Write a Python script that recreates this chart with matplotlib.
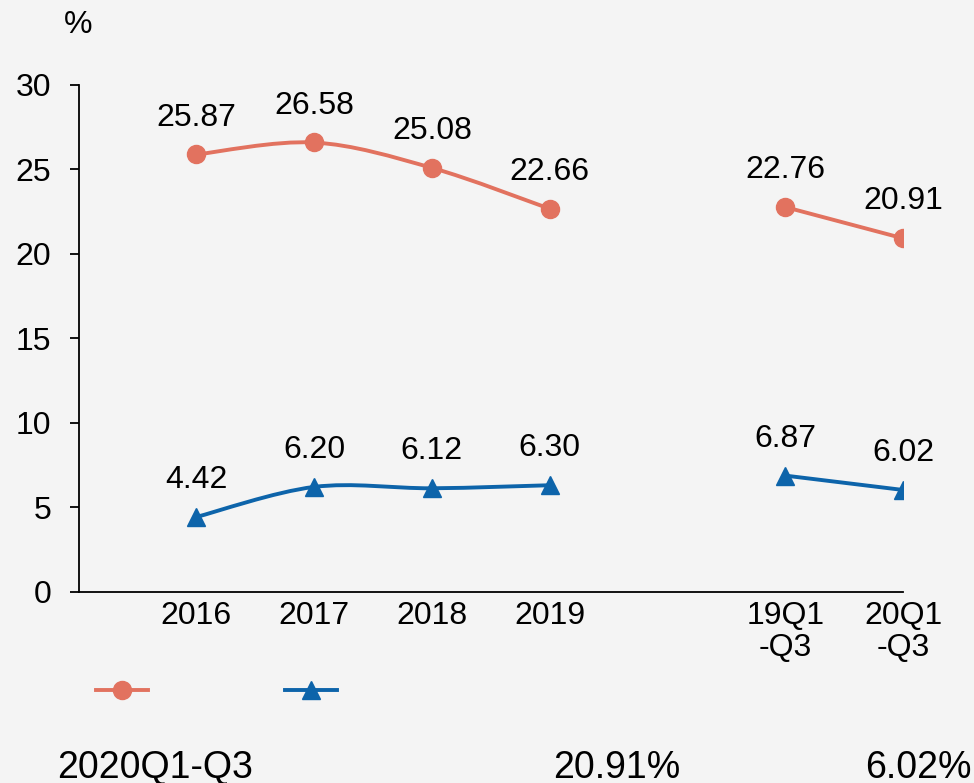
import numpy as np
import matplotlib.pyplot as plt
from matplotlib.path import Path
from matplotlib.patches import PathPatch
from matplotlib.lines import Line2D

plt.rcParams['font.family'] = ['Liberation Sans', 'DejaVu Sans']

# data
categories = ['2016', '2017', '2018', '2019', '', '19Q1\n-Q3', '20Q1\n-Q3']
series_red = [25.87, 26.58, 25.08, 22.66, np.nan, 22.76, 20.91]
series_blue = [4.42, 6.20, 6.12, 6.30, np.nan, 6.87, 6.02]
y_ticks = [0, 5, 10, 15, 20, 25, 30]
footer = ['2020Q1-Q3', '20.91%', '6.02%']

red = '#E2725F'
blue = '#0D64AA'
bg = '#F4F4F4'


def smooth_path(xs, ys):
    # Excel-like smoothed line: cubic bezier through points (catmull-rom style)
    pts = np.column_stack([xs, ys])
    n = len(pts)
    verts = [pts[0]]
    codes = [Path.MOVETO]
    for i in range(n - 1):
        p0 = pts[max(i - 1, 0)]
        p1 = pts[i]
        p2 = pts[i + 1]
        p3 = pts[min(i + 2, n - 1)]
        c1 = p1 + (p2 - p0) / 6.0
        c2 = p2 - (p3 - p1) / 6.0
        verts += [c1, c2, p2]
        codes += [Path.CURVE4] * 3
    return Path(verts, codes)


def segments(values):
    xs, ys = [], []
    out = []
    for i, v in enumerate(values):
        if np.isnan(v):
            if xs:
                out.append((xs, ys))
            xs, ys = [], []
        else:
            xs.append(i)
            ys.append(v)
    if xs:
        out.append((xs, ys))
    return out


fig = plt.figure(figsize=(9.74, 7.83), dpi=100, facecolor=bg)
ax = fig.add_axes([78.5 / 974, 1 - 591.7 / 783, (903 - 78.5) / 974, (591.7 - 84.7) / 783])
ax.patch.set_visible(False)

x = np.arange(len(categories))

for values, color, marker in [(series_red, red, 'o'), (series_blue, blue, '^')]:
    for xs, ys in segments(values):
        ax.add_patch(PathPatch(smooth_path(xs, ys), facecolor='none', edgecolor=color,
                               lw=2.8, capstyle='round', zorder=2))
    ax.plot(x, values, linestyle='none', marker=marker, ms=13, color=color, zorder=3)
    for xi, v in zip(x, values):
        if not np.isnan(v):
            ax.annotate(f'{v:.2f}', (xi, v), xytext=(0, 26.6), textcoords='offset points',
                        ha='center', va='center', fontsize=23, color='black')

ax.set_xlim(-1, 6)
ax.set_ylim(0, 30)
ax.set_xticks(x)
ax.set_xticklabels(categories, fontsize=23, linespacing=1.1)
ax.set_yticks(y_ticks)
ax.set_yticklabels([str(t) for t in y_ticks], fontsize=23)
ax.tick_params(axis='x', length=0, pad=6.5)
ax.tick_params(axis='y', direction='out', length=6.5, width=1.3, pad=13)

ax.spines['right'].set_visible(False)
ax.spines['top'].set_visible(False)
ax.spines['left'].set_linewidth(1.3)
ax.spines['bottom'].set_linewidth(1.3)

fig.text(78 / 974, 1 - 25 / 783, '%', ha='center', va='center', fontsize=23)

handles = [Line2D([], [], color=red, lw=2.8, marker='o', ms=13),
           Line2D([], [], color=blue, lw=2.8, marker='^', ms=13)]
fig.legend(handles, ['', ''], ncol=2, loc='center left', bbox_to_anchor=(96 / 974, 1 - 693 / 783),
           frameon=False, handlelength=1.7, handletextpad=0.4, columnspacing=4.1,
           borderpad=0, borderaxespad=0, fontsize=22)

fig.text(57 / 974, 5 / 783, footer[0], ha='left', va='baseline', fontsize=27)
fig.text(553 / 974, 5 / 783, footer[1], ha='left', va='baseline', fontsize=27)
fig.text(865 / 974, 5 / 783, footer[2], ha='left', va='baseline', fontsize=27)

fig.savefig('out.png', dpi=100, facecolor=bg)
